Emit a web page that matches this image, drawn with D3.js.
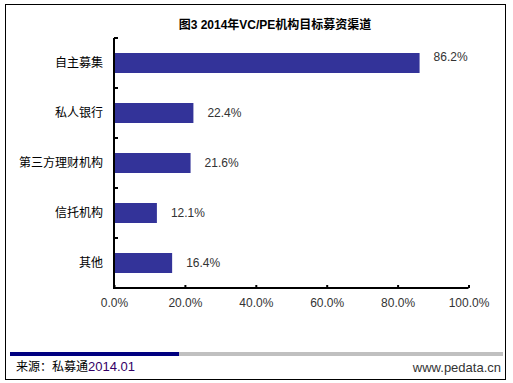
<!DOCTYPE html>
<html>
<head>
<meta charset="utf-8">
<script src="https://cdn.jsdelivr.net/npm/d3@7"></script>
<style>
  body { margin: 0; background: #fff; }
  text { font-family: "Liberation Sans", Arial, "Noto Sans CJK SC", sans-serif; }
</style>
</head>
<body>
<script>
//Define data
let categories = ['自主募集', '私人银行', '第三方理财机构', '信托机构', '其他'];
let values = [86.2, 22.4, 21.6, 12.1, 16.4];
let xTicks = [0, 20, 40, 60, 80, 100];

let data = categories.map((c, i) => ({ name: c, value: values[i] }));

let
  width = 513,
  height = 383;

let margin = { top: 38, bottom: 95, left: 114, right: 44 };

let svg = d3.select('body')
            .append('svg')
            .attr('width', width)
            .attr('height', height);

//outer frame
svg.append('rect')
  .attr('x', 5.5).attr('y', 4.5)
  .attr('width', 500).attr('height', 375)
  .attr('fill', '#fff')
  .attr('stroke', '#000');

//title
svg.append('text')
  .attr('x', 275).attr('y', 29)
  .attr('text-anchor', 'middle')
  .style('font-size', '12px')
  .style('font-weight', 'bold')
  .text('图3 2014年VC/PE机构目标募资渠道');

//scales
let xScale = d3.scaleLinear()
  .domain([0, 100])
  .range([margin.left, width - margin.right - 0.5]);

let yScale = d3.scaleBand()
  .domain(categories)
  .range([margin.top, height - margin.bottom])
  .paddingInner(0.6)
  .paddingOuter(0.3);

//bars
svg.selectAll('.bar')
  .data(data)
  .enter().append('rect')
  .attr('class', 'bar')
  .attr('x', xScale(0))
  .attr('y', d => yScale(d.name))
  .attr('width', d => xScale(d.value) - xScale(0))
  .attr('height', yScale.bandwidth())
  .attr('fill', '#333399');

//value labels
svg.selectAll('.val')
  .data(data)
  .enter().append('text')
  .attr('class', 'val')
  .attr('x', d => xScale(d.value) + 14)
  .attr('y', d => yScale(d.name) + yScale.bandwidth() / 2 + (d.value > 80 ? -6 : 0))
  .attr('dy', '0.35em')
  .style('font-size', '12px')
  .style('fill', '#333')
  .text(d => d.value.toFixed(1) + '%');

//x axis
let xAxis = svg.append('g')
  .attr('transform', `translate(0, ${height - margin.bottom})`)
  .call(d3.axisBottom(xScale).tickValues(xTicks).tickSize(-3).tickPadding(10)
    .tickFormat(d => d.toFixed(1) + '%'));
xAxis.select('.domain').attr('stroke-width', 2).attr('d', `M${margin.left},0H${xScale(100)}`);
xAxis.selectAll('.tick line').attr('stroke-width', 2);
xAxis.selectAll('.tick text')
  .style('font-size', '12px')
  .style('fill', '#333')
  .style('font-family', '"Liberation Sans", Arial, sans-serif');

//y axis (category boundaries as ticks)
let bounds = d3.range(categories.length + 1).map(i =>
  margin.top + i * (height - margin.bottom - margin.top) / categories.length);
let yAxis = svg.append('g');
yAxis.append('line')
  .attr('x1', margin.left).attr('x2', margin.left)
  .attr('y1', margin.top).attr('y2', height - margin.bottom + 1)
  .attr('stroke', '#000').attr('stroke-width', 2);
yAxis.selectAll('.ytick')
  .data(bounds.slice(0, -1))
  .enter().append('line')
  .attr('x1', margin.left).attr('x2', margin.left + 4)
  .attr('y1', d => d).attr('y2', d => d)
  .attr('stroke', '#000').attr('stroke-width', 2);

svg.selectAll('.cat')
  .data(categories)
  .enter().append('text')
  .attr('x', margin.left - 11)
  .attr('y', d => yScale(d) + yScale.bandwidth() / 2)
  .attr('dy', '0.35em')
  .attr('text-anchor', 'end')
  .style('font-size', '12px')
  .text(d => d);

//footer
svg.append('rect')
  .attr('x', 10).attr('y', 352).attr('width', 493).attr('height', 4)
  .attr('fill', '#c0c0c0');
svg.append('rect')
  .attr('x', 10).attr('y', 352).attr('width', 169).attr('height', 4)
  .attr('fill', '#000080');

let src = svg.append('text')
  .attr('x', 16).attr('y', 371);
src.append('tspan').style('font-size', '12px').text('来源：私募通');
src.append('tspan').style('font-size', '13px').style('fill', '#330066').text('2014.01');

svg.append('text')
  .attr('x', 501).attr('y', 372)
  .attr('text-anchor', 'end')
  .style('font-size', '13px')
  .style('fill', '#333')
  .text('www.pedata.cn');
</script>
</body>
</html>
